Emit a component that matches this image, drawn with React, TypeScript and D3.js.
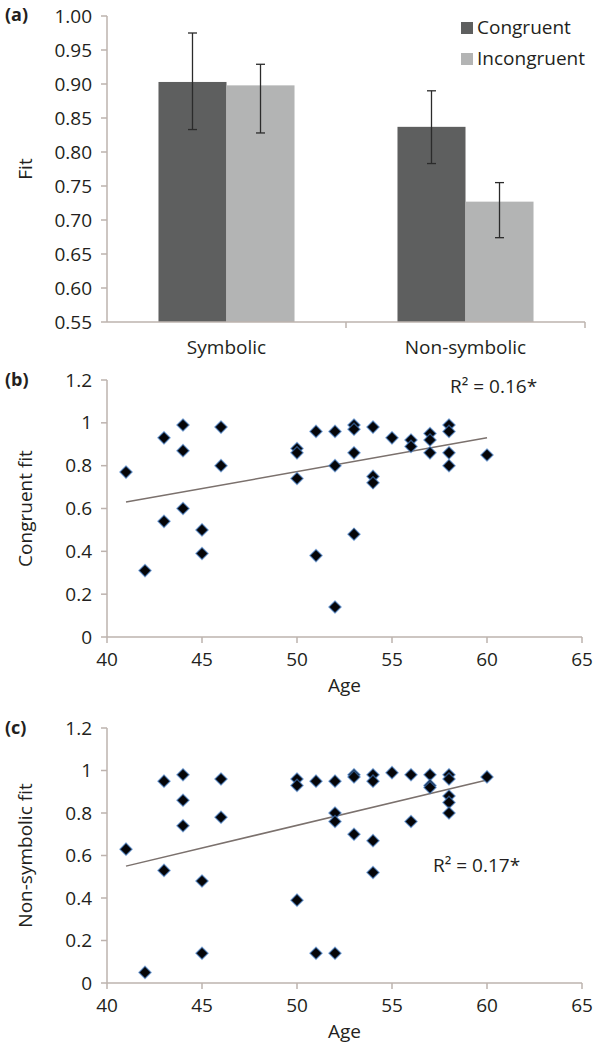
import * as d3 from 'd3'
import React from 'react'

// (a) bar chart
const groups = ['Symbolic', 'Non-symbolic']
const conditions = ['Congruent', 'Incongruent']
const congruentMean = [0.903, 0.837]
const congruentLow = [0.833, 0.783]
const congruentHigh = [0.975, 0.890]
const incongruentMean = [0.898, 0.727]
const incongruentLow = [0.828, 0.674]
const incongruentHigh = [0.929, 0.755]
const fitTicks = [0.55, 0.6, 0.65, 0.7, 0.75, 0.8, 0.85, 0.9, 0.95, 1.0]

// (b) congruent fit vs age
const ageB = [41, 42, 43, 43, 44, 44, 44, 45, 45, 46, 46, 50, 50, 50, 51, 51, 52, 52, 52, 53, 53, 53, 53, 54, 54, 54, 55, 56, 56, 57, 57, 57, 58, 58, 58, 58, 60]
const fitB = [0.77, 0.31, 0.93, 0.54, 0.99, 0.87, 0.60, 0.50, 0.39, 0.98, 0.80, 0.88, 0.86, 0.74, 0.96, 0.38, 0.96, 0.80, 0.14, 0.99, 0.97, 0.86, 0.48, 0.98, 0.75, 0.72, 0.93, 0.92, 0.89, 0.95, 0.92, 0.86, 0.99, 0.96, 0.86, 0.80, 0.85]
const trendAgeB = [41, 60]
const trendFitB = [0.63, 0.93]

// (c) non-symbolic fit vs age
const ageC = [41, 42, 43, 43, 44, 44, 44, 45, 45, 46, 46, 50, 50, 50, 51, 51, 52, 52, 52, 52, 53, 53, 53, 54, 54, 54, 54, 55, 56, 56, 57, 57, 57, 58, 58, 58, 58, 58, 60]
const fitC = [0.63, 0.05, 0.95, 0.53, 0.98, 0.86, 0.74, 0.48, 0.14, 0.96, 0.78, 0.96, 0.93, 0.39, 0.95, 0.14, 0.95, 0.80, 0.76, 0.14, 0.98, 0.97, 0.70, 0.98, 0.95, 0.67, 0.52, 0.99, 0.98, 0.76, 0.98, 0.93, 0.92, 0.98, 0.96, 0.88, 0.85, 0.80, 0.97]
const trendAgeC = [41, 60]
const trendFitC = [0.55, 0.955]

const ageTicks = [40, 45, 50, 55, 60, 65]
const scatterTicks = [0, 0.2, 0.4, 0.6, 0.8, 1, 1.2]

const FONT = '"Open Sans", sans-serif'
const TEXT = '#231f20'
const AXIS = '#bdb3ae'
const DARK = '#5e5f5f'
const LIGHT = '#b3b4b4'

const diamond = d3.symbol(d3.symbolSquare, 74)()

interface ScatterProps {
  top: number
  bottom: number
  label: string
  title: string
  ages: number[]
  fits: number[]
  trendAge: number[]
  trendFit: number[]
  r2: string
  r2x: number
  r2y: number
}

const Scatter = ({ top, bottom, label, title, ages, fits, trendAge, trendFit, r2, r2x, r2y }: ScatterProps) => {
  const
    x = d3.scaleLinear().domain([40, 65]).range([107, 582]),
    y = d3.scaleLinear().domain([0, 1.2]).range([bottom, top]),
    line = d3.line<number>().x((_, i) => x(trendAge[i])).y(d => y(d))
  return (
    <g>
      <text x={5} y={top + 6} fontSize={18} fontWeight='bold' fill={TEXT}>{label}</text>
      <text transform={`translate(32,${(top + bottom) / 2}) rotate(-90)`} textAnchor='middle' fontSize={19} fill={TEXT}>{title}</text>
      <line x1={x(40)} x2={x(40)} y1={y(1.2)} y2={y(0)} stroke={AXIS} strokeWidth={1.5} />
      <line x1={x(40)} x2={x(65)} y1={y(0)} y2={y(0)} stroke={AXIS} strokeWidth={1.5} />
      {scatterTicks.map(t => (
        <g key={t}>
          <line x1={x(40) - 6} x2={x(40)} y1={y(t)} y2={y(t)} stroke={AXIS} strokeWidth={1.5} />
          <text x={92} y={y(t)} dy='0.35em' textAnchor='end' fontSize={19} fill={TEXT}>{d3.format('~g')(t)}</text>
        </g>
      ))}
      {ageTicks.map(t => (
        <g key={t}>
          <line x1={x(t)} x2={x(t)} y1={y(0)} y2={y(0) + 6} stroke={AXIS} strokeWidth={1.5} />
          <text x={x(t)} y={y(0) + 29} textAnchor='middle' fontSize={19} fill={TEXT}>{t}</text>
        </g>
      ))}
      <text x={(x(40) + x(65)) / 2} y={y(0) + 55} textAnchor='middle' fontSize={19} fill={TEXT}>Age</text>
      <path d={line(trendFit)!} fill='none' stroke='#7b716d' strokeWidth={1.5} />
      {ages.map((a, i) => (
        <path key={i} d={diamond!} transform={`translate(${x(a)},${y(fits[i])}) rotate(45)`}
          fill='#050508' stroke='rgba(70,130,205,0.6)' strokeWidth={1.4} />
      ))}
      <text x={r2x} y={r2y} fontSize={19} fill={TEXT}>{r2}</text>
    </g>
  )
}

const Bars = () => {
  const
    x = d3.scaleBand<string>().domain(groups).range([107, 585]),
    inner = d3.scaleBand<string>().domain(conditions).range([0, x.bandwidth()]).paddingInner(0).paddingOuter(0.757),
    y = d3.scaleLinear().domain([0.55, 1]).range([322, 16]),
    series = [
      { name: conditions[0], mean: congruentMean, low: congruentLow, high: congruentHigh, color: DARK },
      { name: conditions[1], mean: incongruentMean, low: incongruentLow, high: incongruentHigh, color: LIGHT },
    ]
  return (
    <g>
      <text x={5} y={21} fontSize={18} fontWeight='bold' fill={TEXT}>(a)</text>
      <text transform={`translate(32,${(y(1) + y(0.55)) / 2}) rotate(-90)`} textAnchor='middle' fontSize={19} fill={TEXT}>Fit</text>
      {series.map(s => groups.map((g, i) => {
        const bx = x(g)! + inner(s.name)!, cx = bx + inner.bandwidth() / 2
        return (
          <g key={s.name + g}>
            <rect x={bx} width={inner.bandwidth()} y={y(s.mean[i])} height={y(0.55) - y(s.mean[i])} fill={s.color} />
            <line x1={cx} x2={cx} y1={y(s.high[i])} y2={y(s.low[i])} stroke='#2b2b2b' strokeWidth={1.3} />
            <line x1={cx - 4.5} x2={cx + 4.5} y1={y(s.high[i])} y2={y(s.high[i])} stroke='#2b2b2b' strokeWidth={1.3} />
            <line x1={cx - 4.5} x2={cx + 4.5} y1={y(s.low[i])} y2={y(s.low[i])} stroke='#2b2b2b' strokeWidth={1.3} />
          </g>
        )
      }))}
      <line x1={107} x2={107} y1={y(1)} y2={y(0.55)} stroke={AXIS} strokeWidth={1.5} />
      <line x1={107} x2={585} y1={y(0.55)} y2={y(0.55)} stroke={AXIS} strokeWidth={1.5} />
      {fitTicks.map(t => (
        <g key={t}>
          <line x1={101} x2={107} y1={y(t)} y2={y(t)} stroke={AXIS} strokeWidth={1.5} />
          <text x={92} y={y(t)} dy='0.35em' textAnchor='end' fontSize={19} fill={TEXT}>{t.toFixed(2)}</text>
        </g>
      ))}
      {groups.map(g => (
        <g key={g}>
          <line x1={x(g)! + x.bandwidth()} x2={x(g)! + x.bandwidth()} y1={y(0.55)} y2={y(0.55) + 6} stroke={AXIS} strokeWidth={1.5} />
          <text x={x(g)! + x.bandwidth() / 2} y={y(0.55) + 32} textAnchor='middle' fontSize={19} fill={TEXT}>{g}</text>
        </g>
      ))}
      {series.map((s, i) => (
        <g key={s.name} transform={`translate(461,${22 + i * 31})`}>
          <rect width={12} height={12} fill={s.color} />
          <text x={16} y={12} fontSize={19} fill={TEXT}>{s.name}</text>
        </g>
      ))}
    </g>
  )
}

export default function App() {
  return (
    <svg width={597} height={1048} style={{ position: 'absolute', left: 0, top: 0, background: '#fff', fontFamily: FONT }}>
      <rect width={597} height={1048} fill='#fff' />
      <Bars />
      <Scatter top={380} bottom={637} label='(b)' title='Congruent fit' ages={ageB} fits={fitB}
        trendAge={trendAgeB} trendFit={trendFitB} r2='R² = 0.16*' r2x={450} r2y={393} />
      <Scatter top={728} bottom={983} label='(c)' title='Non-symbolic fit' ages={ageC} fits={fitC}
        trendAge={trendAgeC} trendFit={trendFitC} r2='R² = 0.17*' r2x={433} r2y={872} />
    </svg>
  )
}
